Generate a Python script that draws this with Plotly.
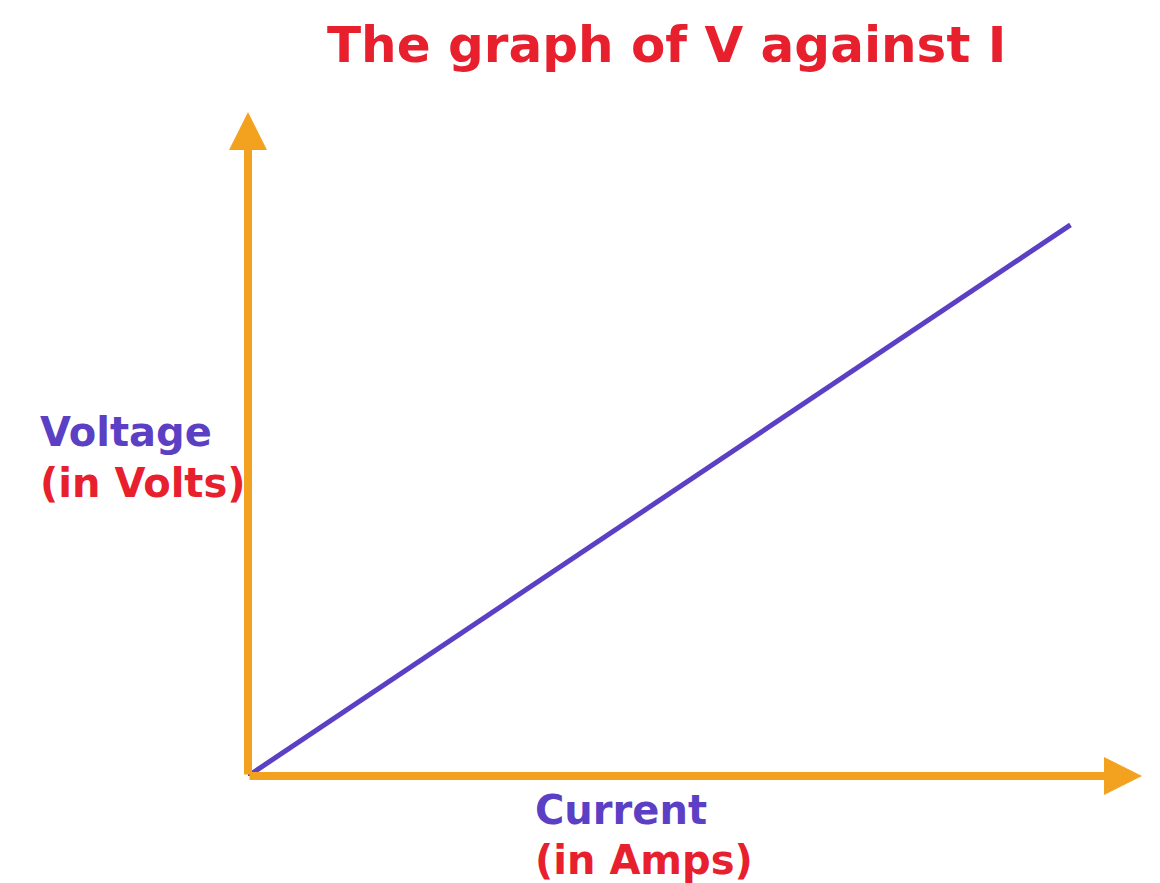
import plotly.graph_objects as go

# Data
current = [0, 9.2]
voltage = [0, 8.3]
x_axis_max = 10
y_axis_max = 10

title_text = "The graph of V against I"
y_label_1 = "Voltage"
y_label_2 = "(in Volts)"
x_label_1 = "Current"
x_label_2 = "(in Amps)"

ORANGE = "#F2A21F"
PURPLE = "#5B3FC4"
RED = "#E8202E"
FONT = "DejaVu Sans"

# page has 8px body margin, so figure is 8px smaller
W, H = 1152, 875
L, R, T, B = 240, 18, 104, 107
pw = W - L - R
ph = H - T - B


def ref_to_paper(px, py):
    # reference pixel -> paper coords
    fx, fy = px - 8, py - 8
    return (fx - L) / pw, (H - B - fy) / ph


fig = go.Figure()
fig.add_trace(go.Scatter(x=current, y=voltage, mode="lines",
                         line=dict(color=PURPLE, width=5), hoverinfo="skip"))

for (x1, y1) in [(x_axis_max, 0), (0, y_axis_max)]:
    fig.add_annotation(x=x1, y=y1, ax=0, ay=0, xref="x", yref="y", axref="x", ayref="y",
                       text="", showarrow=True, arrowhead=2, arrowsize=0.95, arrowwidth=8,
                       arrowcolor=ORANGE, standoff=0, startstandoff=0)

tx, ty = ref_to_paper(666, 45)
fig.add_annotation(x=tx, y=ty, xref="paper", yref="paper", text="<b>%s</b>" % title_text,
                   showarrow=False, xanchor="center", yanchor="middle",
                   font=dict(family=FONT, size=50, color=RED))

labels = [
    (38, 432, y_label_1, PURPLE),
    (38, 483, y_label_2, RED),
    (533, 810, x_label_1, PURPLE),
    (533, 860, x_label_2, RED),
]
for px, py, t, c in labels:
    ax_, ay_ = ref_to_paper(px, py)
    fig.add_annotation(x=ax_, y=ay_, xref="paper", yref="paper", text="<b>%s</b>" % t,
                       showarrow=False, xanchor="left", yanchor="middle",
                       font=dict(family=FONT, size=40, color=c))

fig.update_layout(
    width=W, height=H,
    margin=dict(l=L, r=R, t=T, b=B, pad=0),
    plot_bgcolor="white", paper_bgcolor="white",
    showlegend=False,
    xaxis=dict(range=[0, x_axis_max], visible=False),
    yaxis=dict(range=[0, y_axis_max], visible=False),
)

fig.write_html("out.html")
